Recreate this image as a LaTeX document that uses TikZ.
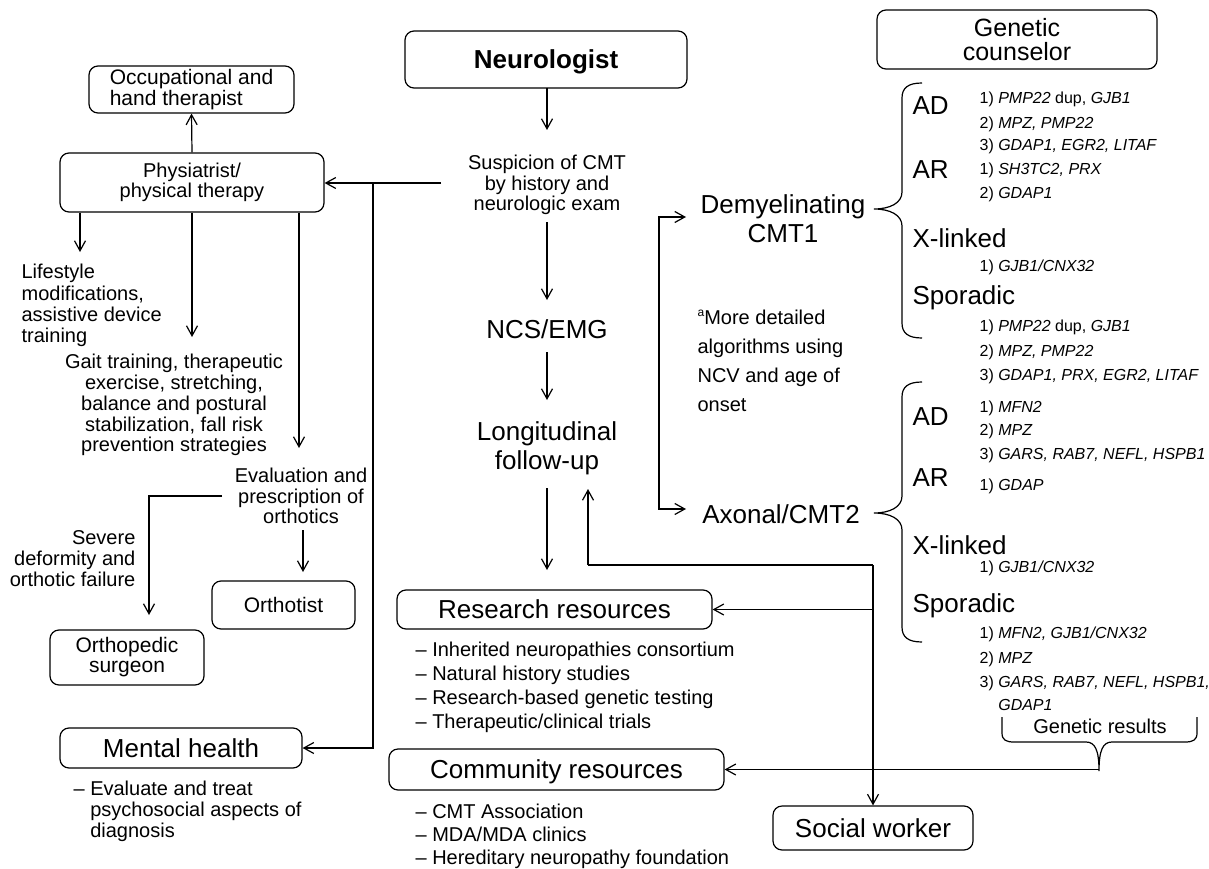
\documentclass[tikz,border=0pt]{standalone}
\usepackage{fontspec}
\setmainfont{Liberation Sans}
\usetikzlibrary{arrows.meta}
\newcommand\myfs[2]{\fontsize{#1}{#2}\selectfont}
\begin{document}
\begin{tikzpicture}[x=1pt,y=-1pt,line width=1.2pt,
  arr/.style={-{Straight Barb[length=10pt,width=11pt]}},
  arrboth/.style={{Straight Barb[length=10pt,width=11pt]}-{Straight Barb[length=10pt,width=11pt]}},
  box/.style={draw,rounded corners=9pt,inner sep=0pt,align=center},
  bigone/.style={text height=18.6pt,text depth=0pt},
  txt/.style={inner sep=0pt},
  biglab/.style={txt,anchor=base west,font=\myfs{26}{28}},
  gene/.style={txt,anchor=base west,font=\myfs{16}{18}}]
\useasboundingbox (0,0) rectangle (1209,869);

% ---------- boxes ----------
\node[box,bigone,minimum width=282pt,minimum height=57pt,font=\myfs{26}{28}\bfseries] (neuro) at (546,59.5) {Neurologist};
\node[box,minimum width=280pt,minimum height=59pt,font=\myfs{25}{23.5}] (gc) at (1017,39.5) {Genetic\\counselor};
\node[box,minimum width=205pt,minimum height=47pt,font=\myfs{21}{18},align=left] (occ) at (191.5,89.5) {Occupational and\\hand therapist};
\node[box,minimum width=264pt,minimum height=59pt,font=\myfs{20}{18.5}] (phys) at (192,182.5) {Physiatrist/\\physical therapy};
\node[box,text height=15pt,text depth=0pt,minimum width=143pt,minimum height=48pt,font=\myfs{21}{24}] (orthotist) at (283.5,605) {Orthotist};
\node[box,minimum width=154pt,minimum height=55pt,font=\myfs{21}{20}] (orthoped) at (127,657.5) {Orthopedic\\surgeon};
\node[box,bigone,minimum width=242pt,minimum height=40pt,font=\myfs{26}{28}] (mental) at (181,748) {Mental health};
\node[box,bigone,minimum width=315pt,minimum height=39pt,font=\myfs{26}{28}] (research) at (554.5,609.5) {Research resources};
\node[box,bigone,minimum width=335pt,minimum height=41pt,font=\myfs{26}{28}] (community) at (556.5,769.5) {Community resources};
\node[box,bigone,minimum width=200pt,minimum height=44pt,font=\myfs{26}{28}] (social) at (873,828) {Social worker};

% ---------- left texts ----------
\node[txt,anchor=north west,align=left,font=\myfs{20}{21.3}] (life) at (21,263.8) {Lifestyle\\modifications,\\assistive device\\training};
\node[txt,anchor=north,align=center,font=\myfs{20}{20.75}] (gait) at (174,353.8) {Gait training, therapeutic\\exercise, stretching,\\balance and postural\\stabilization, fall risk\\prevention strategies};
\node[txt,anchor=north,align=center,font=\myfs{20}{20.5}] (evalo) at (301,467.8) {Evaluation and\\prescription of\\orthotics};
\node[txt,anchor=north east,align=right,font=\myfs{20}{21}] (severe) at (136,529.8) {Severe\\deformity and\\orthotic failure};
\node[txt,anchor=north west,align=left,font=\myfs{20}{21}] (mlist) at (73,780.8) {– Evaluate and treat\\\phantom{– }psychosocial aspects of\\\phantom{– }diagnosis};

% ---------- centre texts ----------
\node[txt,anchor=north,align=center,font=\myfs{20}{20.5}] (susp) at (547,154.8) {Suspicion of CMT\\by history and\\neurologic exam};
\node[txt,anchor=base,font=\myfs{26}{28}] (ncs) at (547,338) {NCS/EMG};
\node[txt,anchor=north,align=center,font=\myfs{26}{29}] (long) at (547,420.7) {Longitudinal\\follow-up};
\node[txt,anchor=north west,align=left,font=\myfs{20}{24}] (rlist) at (415,641.8) {– Inherited neuropathies consortium\\– Natural history studies\\– Research-based genetic testing\\– Therapeutic/clinical trials};
\node[txt,anchor=north west,align=left,font=\myfs{20}{23}] (clist) at (415,803.8) {– CMT Association\\– MDA/MDA clinics\\– Hereditary neuropathy foundation};

% ---------- right texts ----------
\node[txt,anchor=north,align=center,font=\myfs{26}{28.5}] (demy) at (783,194.2) {Demyelinating\\CMT1};
\node[txt,anchor=base,font=\myfs{26}{28}] (axon) at (781,523) {Axonal/CMT2};
\node[txt,anchor=north west,align=left,font=\myfs{20}{29}] (note) at (697,309.3) {\raisebox{0.4em}{\myfs{12}{12}a}More detailed\\algorithms using\\NCV and age of\\onset};

\node[biglab] (ad1) at (912,114.8) {AD};
\node[biglab] (ar1) at (912,178.3) {AR};
\node[biglab] (xl1) at (912,247.8) {X-linked};
\node[biglab] (sp1) at (912,304.3) {Sporadic};
\node[biglab] (ad2) at (912,425.3) {AD};
\node[biglab] (ar2) at (912,486.3) {AR};
\node[biglab] (xl2) at (912,554.3) {X-linked};
\node[biglab] (sp2) at (912,612.3) {Sporadic};

\node[gene] (g1) at (979,103.7) {1) \textit{PMP22} dup, \textit{GJB1}};
\node[gene] (g2) at (979,128.2) {2) \textit{MPZ, PMP22}};
\node[gene] (g3) at (979,150.2) {3) \textit{GDAP1, EGR2, LITAF}};
\node[gene] (g4) at (979,174.2) {1) \textit{SH3TC2, PRX}};
\node[gene] (g5) at (979,198.2) {2) \textit{GDAP1}};
\node[gene] (g6) at (979,271.7) {1) \textit{GJB1/CNX32}};
\node[gene] (g7) at (979,331.2) {1) \textit{PMP22} dup, \textit{GJB1}};
\node[gene] (g8) at (979,356.7) {2) \textit{MPZ, PMP22}};
\node[gene] (g9) at (979,380.7) {3) \textit{GDAP1, PRX, EGR2, LITAF}};
\node[gene] (h1) at (979,412.7) {1) \textit{MFN2}};
\node[gene] (h2) at (979,435.7) {2) \textit{MPZ}};
\node[gene] (h3) at (979,459.7) {3) \textit{GARS, RAB7, NEFL, HSPB1}};
\node[gene] (h4) at (979,490.7) {1) \textit{GDAP}};
\node[gene] (h5) at (979,572.7) {1) \textit{GJB1/CNX32}};
\node[gene] (h6) at (979,638.7) {1) \textit{MFN2, GJB1/CNX32}};
\node[gene] (h7) at (979,663.7) {2) \textit{MPZ}};
\node[gene] (h8) at (979,687.7) {3) \textit{GARS, RAB7, NEFL, HSPB1,}};
\node[gene] (h9) at (997.7,710.7) {\textit{GDAP1}};
\node[txt,anchor=base,font=\myfs{20}{22}] (gres) at (1100,733.2) {Genetic results};

% ---------- braces ----------
\draw (922,83) .. controls (908,83) and (902,88) .. (902,98) -- (902,192)
  .. controls (902,203) and (890,209) .. (874,209)
  .. controls (890,209) and (902,215) .. (902,226) -- (902,323)
  .. controls (902,333) and (908,338) .. (922,338);
\draw (922,382) .. controls (908,382) and (902,387) .. (902,397) -- (902,496)
  .. controls (902,507) and (890,513) .. (874,513)
  .. controls (890,513) and (902,519) .. (902,530) -- (902,627)
  .. controls (902,637) and (908,642) .. (922,642);
\coordinate (grTip) at (1099,771);
\draw (1002,717) -- (1002,733) .. controls (1002,740) and (1006,742) .. (1014,742) -- (1086,742)
  .. controls (1095,742) and (1099,750) .. (grTip)
  .. controls (1099,750) and (1103,742) .. (1112,742) -- (1185,742)
  .. controls (1193,742) and (1197,740) .. (1197,733) -- (1197,717);

% ---------- connectors ----------
\coordinate (suspL) at (441,183);
\coordinate (jm) at (373,183);
\draw[arr] (suspL) -- (suspL -| phys.east);
\draw[arr] (jm) |- (mental.east);
\draw[arr] (phys.north) -- (occ.south);
\coordinate (lifeTip) at (80,252);
\coordinate (gaitTip) at (192,337);
\coordinate (evalTip) at (299,448);
\draw[arr] (lifeTip |- phys.south) -- (lifeTip);
\draw[arr] (phys.south) -- (gaitTip);
\draw[arr] (evalTip |- phys.south) -- (evalTip);
\coordinate (evalL) at (222,496);
\coordinate (sevTip) at (149,615);
\draw[arr] (evalL) -| (sevTip);
\coordinate (evalB) at (303,530);
\coordinate (orthTip) at (303,572);
\draw[arr] (evalB) -- (orthTip);

\coordinate (n1) at (547,88);  \coordinate (n2) at (547,130);
\coordinate (s1) at (547,222); \coordinate (s2) at (547,300);
\coordinate (c1) at (547,352); \coordinate (c2) at (547,400);
\coordinate (l1) at (547,488); \coordinate (l2) at (547,570);
\draw[arr] (n1) -- (n2);
\draw[arr] (s1) -- (s2);
\draw[arr] (c1) -- (c2);
\draw[arr] (l1) -- (l2);

\coordinate (dTip) at (686,217);
\coordinate (aTip) at (686,509);
\draw[arrboth] (dTip) -- (659,217) -- (659,509) -- (aTip);

\coordinate (lfTip) at (588,489);
\coordinate (j1) at (588,565);
\coordinate (j2) at (873,565);
\coordinate (j3) at (873,609.5);
\draw (j1) -- (j2);
\draw[arr] (j1) -- (lfTip);
\draw[arr] (j2) -- (social.north);
\draw[arr] (j3) -- (research.east);
\draw[arr] (grTip |- community.east) -- (community.east);
\end{tikzpicture}
\end{document}
